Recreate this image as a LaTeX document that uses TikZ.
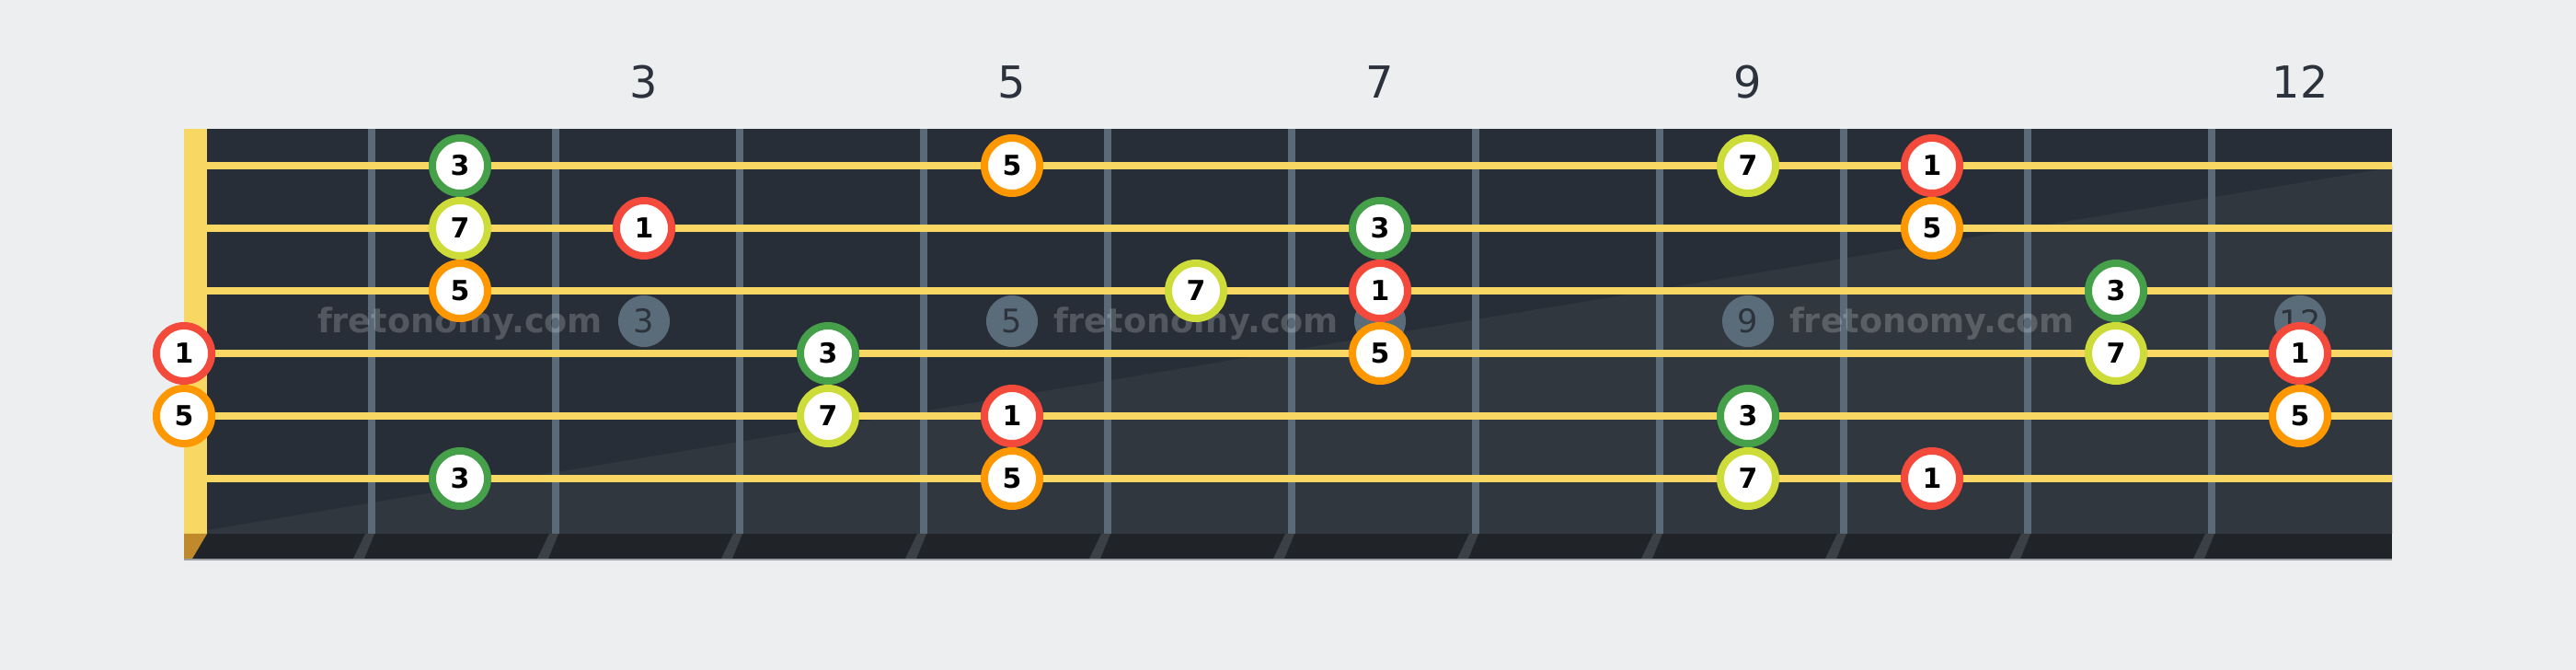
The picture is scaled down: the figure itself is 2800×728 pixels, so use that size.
\documentclass[tikz,border=0pt]{standalone}
\usepackage{fontspec}
\setmainfont{DejaVu Sans}

\definecolor{pagebg}{HTML}{EDEEF0}
\definecolor{boardtop}{HTML}{282E37}
\definecolor{boardlow}{HTML}{31373F}
\definecolor{boardedge}{HTML}{202327}
\definecolor{edgeline}{HTML}{9AA0A6}
\definecolor{nutyellow}{HTML}{F8D862}
\definecolor{nutshade}{HTML}{C08A2C}
\definecolor{fretgray}{HTML}{5A6A78}
\definecolor{fretshade}{HTML}{3B4046}
\definecolor{stringyellow}{HTML}{F8D862}
\definecolor{dotgray}{HTML}{5A6B7A}
\definecolor{dottext}{HTML}{2C333B}
\definecolor{labeltext}{HTML}{2B323B}
\definecolor{rootred}{HTML}{F44A3B}
\definecolor{thirdgreen}{HTML}{45A049}
\definecolor{fifthorange}{HTML}{FF9800}
\definecolor{seventhlime}{HTML}{CDDC39}

\begin{document}
\begin{tikzpicture}[x=0.01cm, y=-0.01cm,
        fretline/.style={fretgray, line width=0.08cm},
        stringline/.style={stringyellow, line width=0.08cm},
        fretlabel/.style={labeltext, anchor=base, font=\fontsize{13.6}{16}\selectfont},
        inlay/.style={circle, fill=dotgray, text=dottext, minimum size=0.56cm, inner sep=0pt,
            font=\fontsize{10}{12}\selectfont},
        watermark/.style={anchor=base, text=white, text opacity=0.2,
            font=\bfseries\fontsize{10.4}{12}\selectfont},
        note/.style={circle, draw, fill=white, line width=0.08cm, minimum size=0.6cm,
            inner sep=0pt, font=\bfseries\fontsize{8.5}{10}\selectfont},
        deg1/.style={note, draw=rootred},
        deg3/.style={note, draw=thirdgreen},
        deg5/.style={note, draw=fifthorange},
        deg7/.style={note, draw=seventhlime}]
        \fill [pagebg] (0,0) rectangle (2800,728);
        \useasboundingbox (0,0) rectangle (2800,728);

        % board
        \fill [boardtop] (225,140) rectangle (2600,580);
        \fill [boardlow] (225,576) -- (2600,182) -- (2600,580) -- (225,580) -- cycle;
        \fill [boardedge] (200,580) rectangle (2600,607);
        \draw [edgeline, line width=0.02cm] (200,608) -- (2600,608);

        % nut
        \fill [nutyellow] (200,140) rectangle (225,580);
        \fill [nutshade] (200,580) -- (225,580) -- (209,607) -- (200,607) -- cycle;

        % frets
        \draw [fretline] (404,140) -- (404,580);
        \fill [fretshade] (397,580) -- (407,580) -- (396,607) -- (384,607) -- cycle;
        \draw [fretline] (604,140) -- (604,580);
        \fill [fretshade] (597,580) -- (607,580) -- (596,607) -- (584,607) -- cycle;
        \draw [fretline] (804,140) -- (804,580);
        \fill [fretshade] (797,580) -- (807,580) -- (796,607) -- (784,607) -- cycle;
        \draw [fretline] (1004,140) -- (1004,580);
        \fill [fretshade] (997,580) -- (1007,580) -- (996,607) -- (984,607) -- cycle;
        \draw [fretline] (1204,140) -- (1204,580);
        \fill [fretshade] (1197,580) -- (1207,580) -- (1196,607) -- (1184,607) -- cycle;
        \draw [fretline] (1404,140) -- (1404,580);
        \fill [fretshade] (1397,580) -- (1407,580) -- (1396,607) -- (1384,607) -- cycle;
        \draw [fretline] (1604,140) -- (1604,580);
        \fill [fretshade] (1597,580) -- (1607,580) -- (1596,607) -- (1584,607) -- cycle;
        \draw [fretline] (1804,140) -- (1804,580);
        \fill [fretshade] (1797,580) -- (1807,580) -- (1796,607) -- (1784,607) -- cycle;
        \draw [fretline] (2004,140) -- (2004,580);
        \fill [fretshade] (1997,580) -- (2007,580) -- (1996,607) -- (1984,607) -- cycle;
        \draw [fretline] (2204,140) -- (2204,580);
        \fill [fretshade] (2197,580) -- (2207,580) -- (2196,607) -- (2184,607) -- cycle;
        \draw [fretline] (2404,140) -- (2404,580);
        \fill [fretshade] (2397,580) -- (2407,580) -- (2396,607) -- (2384,607) -- cycle;

        % strings
        \draw [stringline] (225,180) -- (2600,180);
        \draw [stringline] (225,248) -- (2600,248);
        \draw [stringline] (225,316) -- (2600,316);
        \draw [stringline] (225,384) -- (2600,384);
        \draw [stringline] (225,452) -- (2600,452);
        \draw [stringline] (225,520) -- (2600,520);

        % fret numbers
        \node [fretlabel] (lab3) at (700,107) {3};
        \node [fretlabel] (lab5) at (1100,107) {5};
        \node [fretlabel] (lab7) at (1500,107) {7};
        \node [fretlabel] (lab9) at (1900,107) {9};
        \node [fretlabel] (lab12) at (2500,107) {12};

        % inlays and watermark
        \node [inlay] (dot3) at (700,349) {3};
        \node [inlay] (dot5) at (1100,349) {5};
        \node [inlay] (dot7) at (1500,349) {7};
        \node [inlay] (dot9) at (1900,349) {9};
        \node [inlay] (dot12) at (2500,349) {12};
        \node [watermark] (wm1) at (500,362) {fretonomy.com};
        \node [watermark] (wm2) at (1300,362) {fretonomy.com};
        \node [watermark] (wm3) at (2100,362) {fretonomy.com};

        % notes, string 1
        \node [deg3] (s1f2) at (500,180) {3};
        \node [deg5] (s1f5) at (1100,180) {5};
        \node [deg7] (s1f9) at (1900,180) {7};
        \node [deg1] (s1f10) at (2100,180) {1};
        % string 2
        \node [deg7] (s2f2) at (500,248) {7};
        \node [deg1] (s2f3) at (700,248) {1};
        \node [deg3] (s2f7) at (1500,248) {3};
        \node [deg5] (s2f10) at (2100,248) {5};
        % string 3
        \node [deg5] (s3f2) at (500,316) {5};
        \node [deg7] (s3f6) at (1300,316) {7};
        \node [deg1] (s3f7) at (1500,316) {1};
        \node [deg3] (s3f11) at (2300,316) {3};
        % string 4
        \node [deg1] (s4f0) at (200,384) {1};
        \node [deg3] (s4f4) at (900,384) {3};
        \node [deg5] (s4f7) at (1500,384) {5};
        \node [deg7] (s4f11) at (2300,384) {7};
        \node [deg1] (s4f12) at (2500,384) {1};
        % string 5
        \node [deg5] (s5f0) at (200,452) {5};
        \node [deg7] (s5f4) at (900,452) {7};
        \node [deg1] (s5f5) at (1100,452) {1};
        \node [deg3] (s5f9) at (1900,452) {3};
        \node [deg5] (s5f12) at (2500,452) {5};
        % string 6
        \node [deg3] (s6f2) at (500,520) {3};
        \node [deg5] (s6f5) at (1100,520) {5};
        \node [deg7] (s6f9) at (1900,520) {7};
        \node [deg1] (s6f10) at (2100,520) {1};
    \end{tikzpicture}
\end{document}
